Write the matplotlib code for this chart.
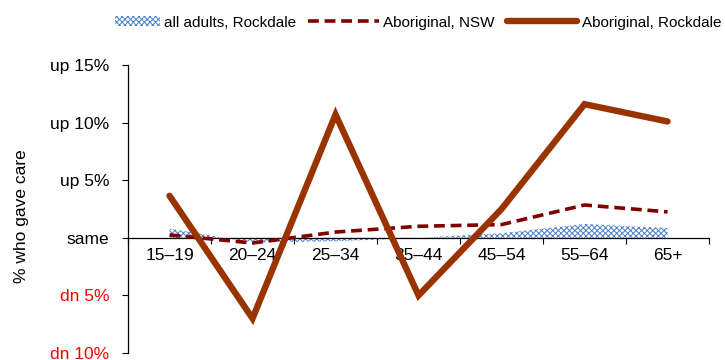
import matplotlib
matplotlib.use('Agg')
import matplotlib.pyplot as plt
from matplotlib.patches import Patch, Rectangle
from matplotlib.lines import Line2D
from matplotlib.legend_handler import HandlerPatch

plt.rcParams['font.family'] = ['Liberation Sans', 'DejaVu Sans']
plt.rcParams['hatch.linewidth'] = 0.7

# 数据
age_groups = ['15–19', '20–24', '25–34', '35–44', '45–54', '55–64', '65+']
all_adults_rockdale = [0.8, -0.4, -0.3, 0.0, 0.4, 1.2, 0.85]
aboriginal_nsw = [0.25, -0.45, 0.5, 1.0, 1.15, 2.85, 2.25]
aboriginal_rockdale = [3.65, -7.0, 10.7, -5.0, 2.5, 11.6, 10.1]

y_ticks = [-10, -5, 0, 5, 10, 15]
y_tick_labels = ['dn 10%', 'dn 5%', 'same', 'up 5%', 'up 10%', 'up 15%']

c_area = '#4a7fcc'
c_nsw = '#800000'
c_rock = '#993300'

fig = plt.figure(figsize=(7.25, 3.6), dpi=100)
ax = fig.add_axes([0.1766, 0.0194, 0.8014, 0.8])

x = list(range(len(age_groups)))
ax.fill_between(x, 0, all_adults_rockdale, facecolor='white', edgecolor=c_area,
                hatch='xxxxxx', linewidth=0, zorder=1)
ax.plot(x, aboriginal_nsw, color=c_nsw, lw=2.6, ls=(0, (3, 1.6)), zorder=3)
ax.plot(x, aboriginal_rockdale, color=c_rock, lw=4.6, solid_joinstyle='miter',
        solid_capstyle='round', zorder=4)

ax.set_xlim(-0.5, 6.5)
ax.set_ylim(-10, 15)

ax.spines['top'].set_visible(False)
ax.spines['right'].set_visible(False)
ax.spines['bottom'].set_position(('data', 0))
ax.spines['left'].set_linewidth(0.9)
ax.spines['bottom'].set_linewidth(0.9)
ax.spines['bottom'].set_zorder(2)

ax.set_xticks(x)
ax.set_xticklabels(age_groups, fontsize=12.5)
ax.set_xticks([i + 0.5 for i in range(-1, 7)], minor=True)
ax.tick_params(axis='x', which='major', length=0, pad=7)
ax.tick_params(axis='x', which='minor', length=4, width=0.8, direction='out')

ax.set_yticks(y_ticks)
ax.set_yticklabels(y_tick_labels, fontsize=12.5)
ax.tick_params(axis='y', length=4.5, width=0.8, pad=9)
for lbl, v in zip(ax.get_yticklabels(), y_ticks):
    lbl.set_color('red' if v < 0 else 'black')

fig.text(0.03, 0.40, '% who gave care', rotation=90, fontsize=12.5,
         ha='center', va='center')


# 图例里的面积色块比线条短一些
def short_rect(legend, orig_handle, xdescent, ydescent, width, height, fontsize):
    w = width * 0.64
    return Rectangle((-xdescent + width - w, -ydescent), w, height)


handles = [
    Patch(facecolor='white', edgecolor=c_area, hatch='xxxxxx', linewidth=0),
    Line2D([], [], color=c_nsw, lw=2.6, ls=(0, (3, 1.6))),
    Line2D([], [], color=c_rock, lw=4.6, solid_capstyle='round'),
]
labels = ['all adults, Rockdale', 'Aboriginal, NSW', 'Aboriginal, Rockdale']
fig.legend(handles, labels, loc='upper right', bbox_to_anchor=(1.014, 0.995),
           ncol=3, frameon=False, fontsize=11, handlelength=4.6,
           handletextpad=0.3, columnspacing=0.8, handleheight=0.6,
           handler_map={Patch: HandlerPatch(patch_func=short_rect)})

fig.savefig('out.png', dpi=100)
